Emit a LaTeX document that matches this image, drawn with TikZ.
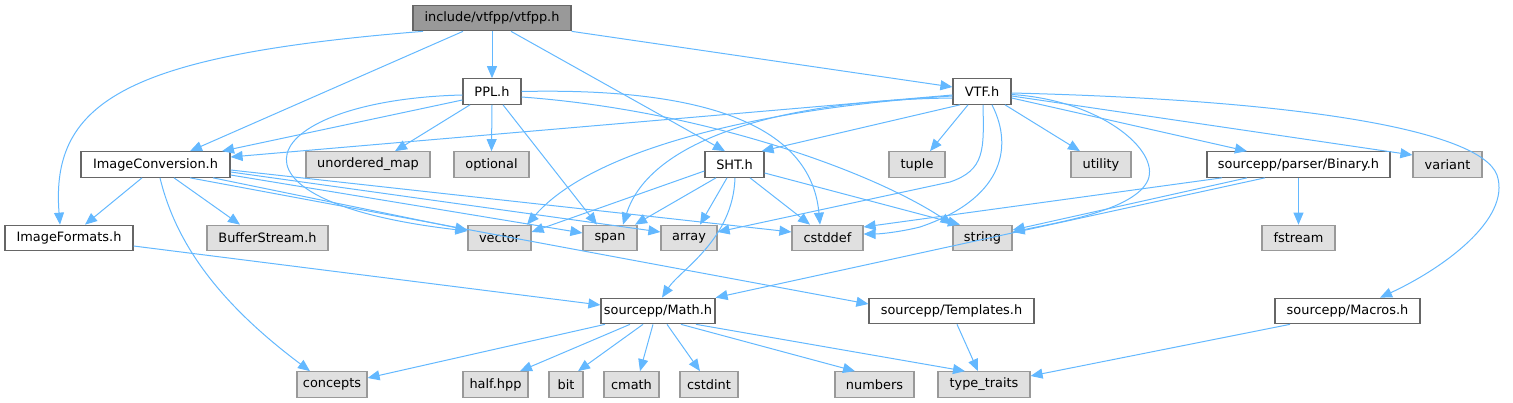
\documentclass[tikz,border=0pt]{standalone}
\usepackage{fontspec}
\setmainfont{DejaVu Sans}
\usetikzlibrary{arrows.meta}
\definecolor{edgec}{HTML}{63B8FF}
\definecolor{bdoc}{HTML}{666666}
\definecolor{bext}{HTML}{999999}
\definecolor{fext}{HTML}{E0E0E0}
\definecolor{froot}{HTML}{999999}
\begin{document}
\begin{tikzpicture}[x=1pt,y=-1pt,
  nbase/.style={rectangle, inner sep=0pt, minimum height=25.5pt, line width=1.2pt, font=\fontsize{12.9}{15}\selectfont, text=black},
  docn/.style={nbase, draw=bdoc, fill=white},
  extn/.style={nbase, draw=bext, fill=fext},
  rootn/.style={nbase, draw=bdoc, fill=froot},
  dep/.style={draw=edgec, line width=1pt, -{Triangle[length=12pt,width=10pt]}}]
\useasboundingbox (0,0) rectangle (1513,403);
% nodes
\node[rootn, minimum width=158pt] (root) at (492,18) {include/vtfpp/vtfpp.h};
\node[docn, minimum width=58pt] (ppl) at (492,91.5) {PPL.h};
\node[docn, minimum width=58pt] (vtf) at (982,91.5) {VTF.h};
\node[docn, minimum width=149pt] (imgconv) at (155.5,164.5) {ImageConversion.h};
\node[extn, minimum width=124pt] (umap) at (368,164.5) {unordered\_map};
\node[extn, minimum width=75pt] (optional) at (491.5,164.5) {optional};
\node[docn, minimum width=59pt] (sht) at (734.5,164.5) {SHT.h};
\node[extn, minimum width=56pt] (tuple) at (917,164.5) {tuple};
\node[extn, minimum width=60pt] (utility) at (1101,164.5) {utility};
\node[docn, minimum width=183pt] (binary) at (1298.5,164.5) {sourcepp/parser/Binary.h};
\node[extn, minimum width=69pt] (variant) at (1447.5,164.5) {variant};
\node[docn, minimum width=128pt] (imgfmt) at (69,238) {ImageFormats.h};
\node[extn, minimum width=121pt] (buffer) at (267.5,238) {BufferStream.h};
\node[extn, minimum width=63pt] (vector) at (499.5,238) {vector};
\node[extn, minimum width=54pt] (span) at (610,238) {span};
\node[extn, minimum width=56pt] (array) at (689,238) {array};
\node[extn, minimum width=71pt] (cstddef) at (827.5,238) {cstddef};
\node[extn, minimum width=59pt] (string) at (982.5,238) {string};
\node[extn, minimum width=73pt] (fstream) at (1298.5,238) {fstream};
\node[docn, minimum width=114pt] (math) at (658,311) {sourcepp/Math.h};
\node[docn, minimum width=165pt] (templates) at (951.5,311) {sourcepp/Templates.h};
\node[docn, minimum width=145pt] (macros) at (1347.5,311) {sourcepp/Macros.h};
\node[extn, minimum width=70pt] (concepts) at (332,384.5) {concepts};
\node[extn, minimum width=65pt] (half) at (495.5,384.5) {half.hpp};
\node[extn, minimum width=34pt] (bit) at (566,384.5) {bit};
\node[extn, minimum width=55pt] (cmath) at (631.5,384.5) {cmath};
\node[extn, minimum width=58pt] (cstdint) at (709,384.5) {cstdint};
\node[extn, minimum width=79pt] (numbers) at (874.5,384.5) {numbers};
\node[extn, minimum width=92pt] (typetraits) at (984,384.5) {type\_traits};
% root edges
\draw[dep] (root.south) -- (ppl.north);
\draw[dep] (root.south east) -- ([yshift=4.5]vtf.west);
\draw[dep] ([xshift=19]root.south) -- ([xshift=-9.5]sht.north);
\draw[dep] ([xshift=-29]root.south) -- ([xshift=34.5]imgconv.north);
\draw[dep] ([xshift=-69]root.south) .. controls (130,55) and (50,100) .. ([xshift=-9]imgfmt.north);
% PPL edges
\draw[dep] ([yshift=-8.5]ppl.west) -- ([xshift=66.5]imgconv.north);
\draw[dep] ([yshift=-3.5]ppl.west) .. controls (260,100) and (200,200) .. ([yshift=7]vector.west);
\draw[dep] ([xshift=-22]ppl.south) -- ([xshift=27]umap.north);
\draw[dep] (ppl.south) -- (optional.north);
\draw[dep] ([xshift=11]ppl.south) -- ([xshift=-13]span.north);
\draw[dep] (ppl.east) .. controls (680,88) and (810,115) .. ([xshift=-7.5]cstddef.north);
\draw[dep] ([yshift=-5.5]ppl.east) .. controls (700,110) and (870,170) .. ([xshift=-30]string.north);
% VTF edges
\draw[dep] ([yshift=-3.5]vtf.west) -- ([yshift=7.5]imgconv.east);
\draw[dep] ([xshift=-22]vtf.south) -- ([xshift=-3]sht.north east);
\draw[dep] ([yshift=-4.5]vtf.west) .. controls (800,105) and (600,140) .. ([xshift=27.5]vector.north);
\draw[dep] ([yshift=-6.5]vtf.west) .. controls (780,100) and (650,140) .. ([xshift=13]span.north);
\draw[dep] ([xshift=1]vtf.south) .. controls (984,150) and (985,170) .. (950,182) -- ([yshift=6]array.east);
\draw[dep] ([xshift=10]vtf.south) .. controls (1015,150) and (1000,200) .. (920,227) .. controls (900,232) and (880,234) .. ([yshift=4]cstddef.east);
\draw[dep] ([yshift=-3]vtf.east) .. controls (1100,100) and (1160,150) .. (1148,180) .. controls (1135,210) and (1060,222) .. ([yshift=6]string.east);
\draw[dep] ([xshift=-14]vtf.south) -- ([xshift=13]tuple.north);
\draw[dep] ([xshift=23]vtf.south) -- ([xshift=-21]utility.north);
\draw[dep] ([yshift=-6.5]vtf.east) -- ([xshift=-51.5]binary.north);
\draw[dep] ([yshift=-4.5]vtf.east) -- ([yshift=9.5]variant.west);
\draw[dep] ([yshift=-1.5]vtf.east) .. controls (1300,100) and (1480,130) .. (1497,175) .. controls (1512,220) and (1440,270) .. ([xshift=32.5]macros.north);
% SHT edges
\draw[dep] ([yshift=-6.5]sht.west) -- ([yshift=6]vector.east);
\draw[dep] ([xshift=-18.5]sht.south) -- ([xshift=25]span.north);
\draw[dep] ([xshift=-7.5]sht.south) -- ([xshift=11]array.north);
\draw[dep] ([xshift=15.5]sht.south) -- ([xshift=-17.5]cstddef.north);
\draw[dep] ([yshift=-8.5]sht.east) -- ([xshift=-22.5]string.north);
\draw[dep] ([xshift=0.5]sht.south) .. controls (733,240) and (680,270) .. ([xshift=4]math.north);
% ImageConversion edges
\draw[dep] ([xshift=-13.5]imgconv.south) -- ([xshift=16]imgfmt.north);
\draw[dep] ([xshift=18.5]imgconv.south) -- ([xshift=-27.5]buffer.north);
\draw[dep] ([xshift=4.5]imgconv.south) .. controls (175,240) and (215,300) .. ([xshift=-22]concepts.north);
\draw[dep] ([xshift=57.5]imgconv.south) -- ([yshift=8]vector.west);
\draw[dep] ([yshift=-10.5]imgconv.east) -- ([yshift=5]span.west);
\draw[dep] ([yshift=-7.5]imgconv.east) -- ([yshift=6]array.west);
\draw[dep] ([yshift=-5.5]imgconv.east) -- ([yshift=6]cstddef.west);
\draw[dep] ([xshift=34.5]imgconv.south) -- ([yshift=7]templates.west);
% ImageFormats
\draw[dep] ([yshift=-8]imgfmt.east) -- ([yshift=6]math.west);
% Binary
\draw[dep] ([xshift=-76.5]binary.south) -- ([yshift=11]cstddef.east);
\draw[dep] ([xshift=-51.5]binary.south) -- ([yshift=8]string.east);
\draw[dep] ([xshift=-33.5]binary.south) -- (math.north east);
\draw[dep] (binary.south) -- (fstream.north);
% Math
\draw[dep] ([xshift=-53]math.south) -- ([yshift=6.5]concepts.east);
\draw[dep] ([xshift=-28]math.south) -- ([xshift=24.5]half.north);
\draw[dep] ([xshift=-15]math.south) -- ([xshift=12]bit.north);
\draw[dep] ([xshift=-5]math.south) -- ([xshift=8.5]cmath.north);
\draw[dep] ([xshift=9]math.south) -- ([xshift=-9]cstdint.north);
\draw[dep] ([xshift=23]math.south) -- ([xshift=-19.5]numbers.north);
\draw[dep] ([xshift=38]math.south) -- ([xshift=-19]typetraits.north);
% Templates, Macros
\draw[dep] ([xshift=5.5]templates.south) -- ([xshift=-6]typetraits.north);
\draw[dep] ([xshift=-57.5]macros.south) -- ([yshift=8.5]typetraits.east);
\end{tikzpicture}
\end{document}
